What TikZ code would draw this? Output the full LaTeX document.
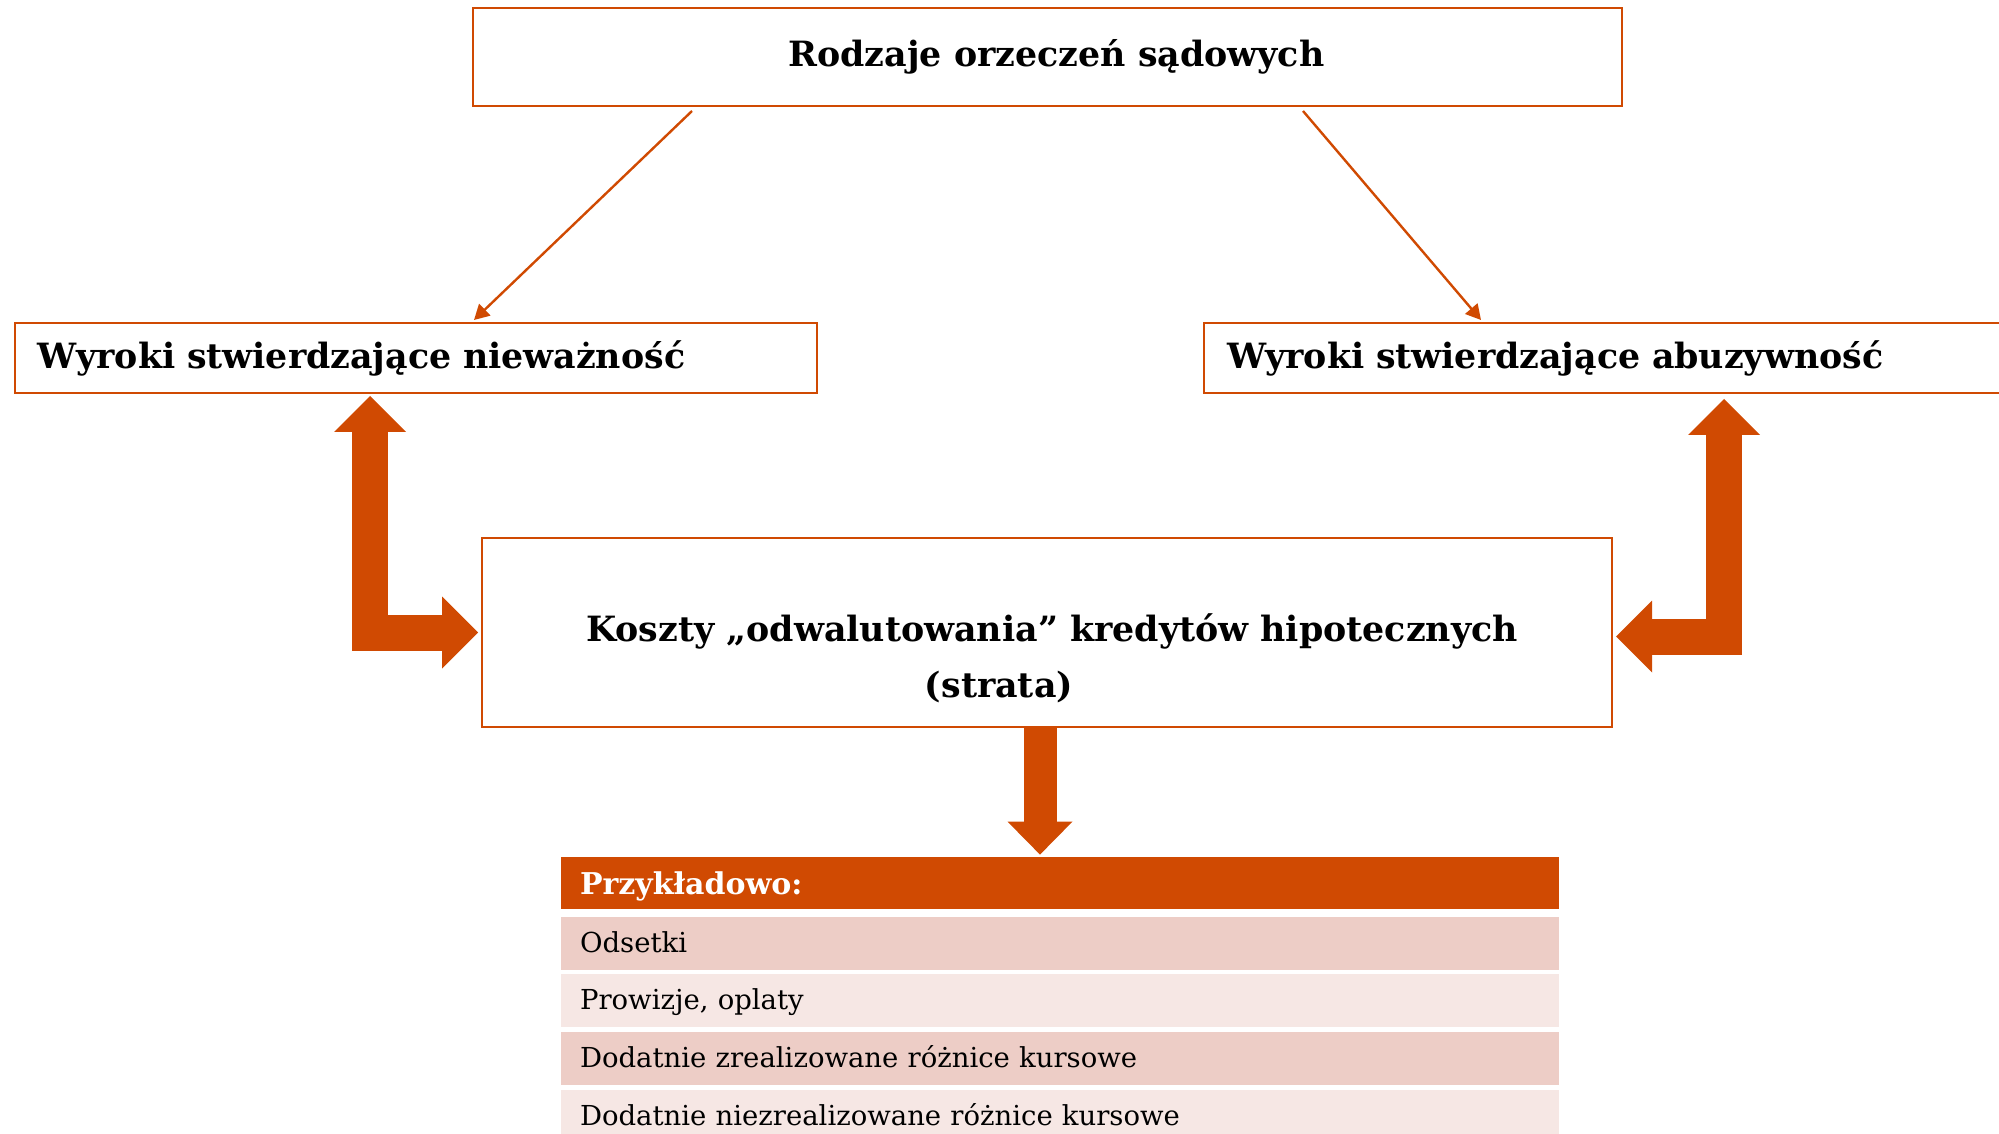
\documentclass[tikz,border=0pt]{standalone}
\usepackage{fontspec}
\setmainfont{DejaVu Serif}
\usetikzlibrary{arrows.meta}
\definecolor{pwcorange}{HTML}{D04A02}
\definecolor{rowdark}{HTML}{EDCDC6}
\definecolor{rowlight}{HTML}{F6E7E4}

\begin{document}
\begin{tikzpicture}[
        x=0.5pt, y=-0.5pt,
        box/.style={draw=pwcorange, line width=1pt, fill=white, inner sep=0pt},
        title/.style={font=\fontsize{17.4}{28}\selectfont\bfseries},
        thinarrow/.style={draw=pwcorange, line width=1.2pt, -{Triangle[length=7.5pt,width=8pt]}},
        blockarrow/.style={draw=pwcorange, line width=18pt,
            {Triangle[length=18pt,width=36pt,line width=0pt]}-{Triangle[length=18pt,width=36pt,line width=0pt]}},
        downarrow/.style={draw=pwcorange, line width=16.5pt, -{Triangle[length=16.5pt,width=32.5pt,line width=0pt]}},
        row/.style={minimum height=26.5pt, text width=480pt, inner xsep=9.5pt, inner ysep=0pt,
            text height=11pt, text depth=2pt, align=left, font=\fontsize{13.75}{17}\selectfont}
    ]
    \useasboundingbox (0,0) rectangle (1999,1134);
    % rulings
    \node[box, title, minimum width=574.5pt, minimum height=49pt] (top) at (1047.5,57) {\hspace*{9pt}Rodzaje orzeczeń sądowych};
    \node[box, title, minimum height=35pt, text width=378pt, inner xsep=11.5pt, align=left] (left) at (416,358) {Wyroki stwierdzające nieważność};
    \node[box, title, minimum height=35pt, text width=378pt, inner xsep=11.5pt, align=left] (right) at (1605,358) {Wyroki stwierdzające abuzywność};
    \draw[thinarrow] ([xshift=-177.75pt,yshift=-2pt]top.south) -- ([xshift=29pt,yshift=1pt]left.north);
    \draw[thinarrow] ([xshift=127.75pt,yshift=-2pt]top.south) -- ([xshift=-62pt,yshift=1pt]right.north);

    % costs
    \node[box, minimum width=565pt, minimum height=94.5pt] (mid) at (1047,632.5) {};
    \node[title, align=center] (midtext) at (1052,658) {Koszty „odwalutowania” kredytów hipotecznych\\(strata)\hspace*{53pt}};
    \coordinate (lup) at (370,396);
    \coordinate (rup) at (1724,399);
    \draw[blockarrow] (lup) |- ([xshift=-1.5pt]mid.west);
    \draw[blockarrow] (rup) |- ([xshift=1.5pt,yshift=-2pt]mid.east);

    % examples table
    \node[row, fill=pwcorange, text=white, minimum height=26pt, text height=12pt, text depth=1pt,
        font=\fontsize{15}{17}\selectfont\bfseries] (hdr) at (1060,883) {Przykładowo:};
    \foreach \i/\txt/\col in {0/Odsetki/rowdark, 1/{Prowizje, oplaty}/rowlight,
        2/Dodatnie zrealizowane różnice kursowe/rowdark, 3/Dodatnie niezrealizowane różnice kursowe/rowlight}
    {
        \node[row, fill=\col] (row\i) at (1060,943+57.7*\i) {\txt};
    }
    \draw[downarrow] ([xshift=-3.5pt]mid.south) -- ([xshift=-10pt,yshift=1pt]hdr.north);
\end{tikzpicture}
\end{document}
